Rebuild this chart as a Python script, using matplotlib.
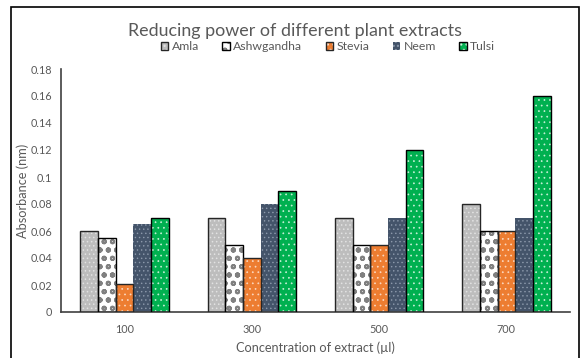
import matplotlib
matplotlib.use('Agg')
import matplotlib.pyplot as plt
import numpy as np
from matplotlib.patches import Patch, Rectangle

# Datos
concentraciones = ['100', '300', '500', '700']
amla = [0.06, 0.07, 0.07, 0.08]
ashwagandha = [0.055, 0.05, 0.05, 0.06]
stevia = [0.021, 0.04, 0.05, 0.06]
neem = [0.065, 0.08, 0.07, 0.07]
tulsi = [0.07, 0.09, 0.12, 0.16]

plt.rcParams['font.family'] = ['Lato', 'DejaVu Sans']
gris = '#595959'

# (nombre, valores, relleno, color del patrón, patrón, ancho patrón, borde)
series = [
    ('Amla', amla, '#bdbdbd', '#e2e2e2', '....', 0.6, '#262626'),
    ('Ashwgandha', ashwagandha, 'white', '#808080', 'oo', 1.4, 'black'),
    ('Stevia', stevia, '#ed7d31', '#fbd9c2', '...', 0.5, '#262626'),
    ('Neem', neem, '#44546a', '#8d9aac', '....', 0.5, None),
    ('Tulsi', tulsi, '#00b050', '#c8f0d8', '...', 0.5, 'black'),
]

fig = plt.figure(figsize=(5.82, 3.58), dpi=100)
ax = fig.add_axes([61 / 582, 1 - 312 / 358, (570 - 61) / 582, (312 - 69) / 358])

x = np.arange(len(concentraciones))
ancho = 0.139
handles = []
for i, (nombre, vals, relleno, c_patron, patron, lw_patron, borde) in enumerate(series):
    pos = x + (i - 2) * ancho
    with plt.rc_context({'hatch.linewidth': lw_patron}):
        barras = ax.bar(pos, vals, ancho, color=relleno, edgecolor=c_patron,
                        hatch=patron, linewidth=0, zorder=2)
        for b in barras:
            if hasattr(b, 'set_hatch_linewidth'):
                b.set_hatch_linewidth(lw_patron)
        if borde is not None:
            ax.bar(pos, vals, ancho, fill=False, edgecolor=borde, linewidth=1.0, zorder=3)
        h = Patch(facecolor=relleno, edgecolor=c_patron, hatch=patron, linewidth=0)
        if hasattr(h, 'set_hatch_linewidth'):
            h.set_hatch_linewidth(lw_patron)
    if borde is not None:
        h = (h, Patch(fill=False, edgecolor=borde, linewidth=1.0))
    handles.append(h)

ax.set_xlim(-0.5, 3.5)
ax.set_ylim(0, 0.18)
ax.set_yticks(np.arange(0, 0.181, 0.02))
ax.set_yticklabels(['0', '0.02', '0.04', '0.06', '0.08', '0.1', '0.12', '0.14', '0.16', '0.18'])
ax.set_xticks(x)
ax.set_xticklabels(concentraciones)
ax.tick_params(axis='both', length=0, labelsize=7.8, labelcolor=gris)
ax.tick_params(axis='y', pad=6.5)
ax.tick_params(axis='x', pad=8.5)
for s in ['top', 'right']:
    ax.spines[s].set_visible(False)
for s in ['left', 'bottom']:
    ax.spines[s].set_color('#404040')
    ax.spines[s].set_linewidth(1.2)

ax.set_xlabel('Concentration of extract (µl)', fontsize=9.2, color=gris)
ax.xaxis.set_label_coords(0.5, -0.123)
ax.set_ylabel('Absorbance (nm)', fontsize=9.2, color=gris)
ax.yaxis.set_label_coords(-0.063, 0.5)

fig.text(295 / 582, 1 - 31 / 358, 'Reducing power of different plant extracts',
         ha='center', va='center', fontsize=12.9, color=gris)

fig.legend(handles, [s[0] for s in series], loc='center', ncol=5,
           bbox_to_anchor=(328 / 582, 1 - 47 / 358), frameon=False,
           fontsize=8.8, labelcolor=gris, handlelength=0.6, handleheight=0.6,
           handletextpad=0.3, columnspacing=1.9, borderpad=0)

# Marco exterior del gráfico
fig.patches.append(Rectangle((11 / 582, -0.1), (579 - 11) / 582, 1.1 - 7 / 358,
                             transform=fig.transFigure, fill=False,
                             edgecolor='black', linewidth=1.2, clip_on=False))

fig.savefig('out.png', dpi=100)
